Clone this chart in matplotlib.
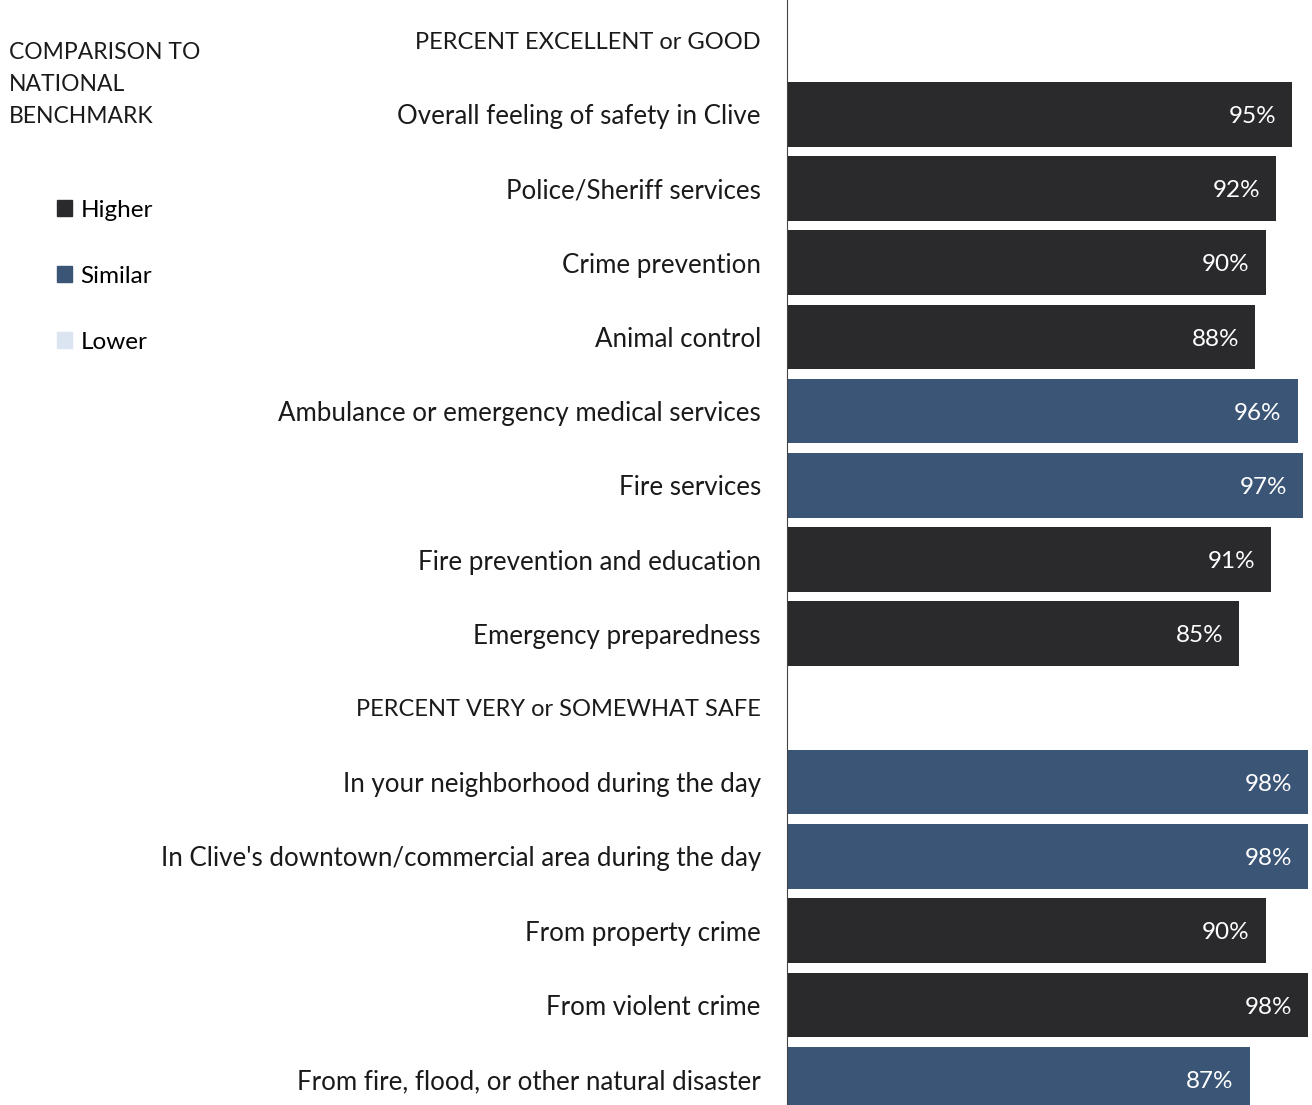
import matplotlib.pyplot as plt
from matplotlib.patches import Patch
import numpy as np

categorias = ['PERCENT EXCELLENT or GOOD',
              'Overall feeling of safety in Clive',
              'Police/Sheriff services',
              'Crime prevention',
              'Animal control',
              'Ambulance or emergency medical services',
              'Fire services',
              'Fire prevention and education',
              'Emergency preparedness',
              'PERCENT VERY or SOMEWHAT SAFE',
              'In your neighborhood during the day',
              "In Clive's downtown/commercial area during the day",
              'From property crime',
              'From violent crime',
              'From fire, flood, or other natural disaster']

valores = [np.nan, 95, 92, 90, 88, 96, 97, 91, 85,
           np.nan, 98, 98, 90, 98, 87]

comparacao = ['', 'Higher', 'Higher', 'Higher', 'Higher', 'Similar', 'Similar',
              'Higher', 'Higher', '', 'Similar', 'Similar', 'Higher', 'Higher',
              'Similar']

cores = {'Higher': '#2a2a2d', 'Similar': '#3b5577', 'Lower': '#dbe5f1'}

plt.rcParams['font.family'] = ['Lato', 'DejaVu Sans']

fig = plt.figure(figsize=(13.12, 11.05), dpi=100)
ax = fig.add_axes([0.6, 0.0, 0.4, 1.0])

y = np.arange(len(categorias))
for i, (v, c) in enumerate(zip(valores, comparacao)):
    if np.isnan(v):
        continue
    ax.barh(y[i], v, height=0.87, color=cores[c])
    ax.text(v - 3, y[i] + 0.03, f'{v:.0f}%', color='white', ha='right',
            va='center', fontsize=17.5)

ax.set_xlim(0, 98.7)
ax.set_ylim(14.35, -0.54)
ax.set_yticks(y)
ax.set_yticklabels(categorias, fontsize=18.6, color='#1a1a1a')
# os cabecalhos das secoes ficam um pouco menores
for i, lab in enumerate(ax.get_yticklabels()):
    if np.isnan(valores[i]):
        lab.set_fontsize(17)
ax.tick_params(axis='y', length=0, pad=19)
ax.set_xticks([])
for s in ['top', 'right', 'bottom']:
    ax.spines[s].set_visible(False)
ax.spines['left'].set_color('#444444')
ax.spines['left'].set_linewidth(0.8)

# legenda de comparacao
fig.text(0.007, 0.962, 'COMPARISON TO\nNATIONAL\nBENCHMARK', ha='left', va='top',
         fontsize=16.5, color='#1a1a1a', linespacing=1.65)
handles = [Patch(color=cores[k]) for k in ['Higher', 'Similar', 'Lower']]
fig.legend(handles, ['Higher', 'Similar', 'Lower'], loc='upper left',
           bbox_to_anchor=(0.027, 0.839), frameon=False, fontsize=17.5,
           handlelength=0.6, handleheight=0.6, handletextpad=0.35,
           labelspacing=1.85)

fig.savefig('out.png', dpi=100)
